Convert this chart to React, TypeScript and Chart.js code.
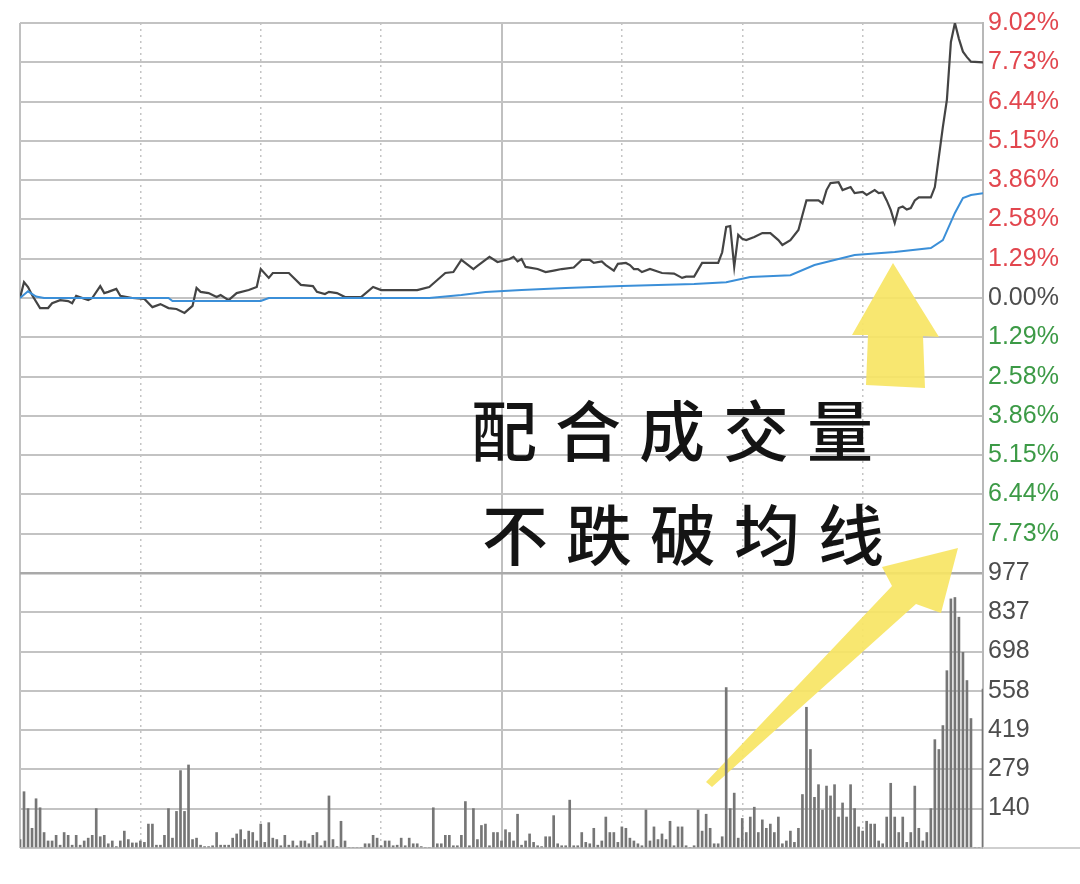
import React, { useEffect, useRef } from 'react';
import { Chart, registerables } from 'chart.js';

Chart.register(...registerables);

// ---- data ----
const priceMinutes = [
  0, 1, 2, 3, 5, 7, 8, 10, 12, 13, 14, 17, 18, 20, 21, 22, 24, 25, 28, 31,
  33, 35, 37, 39, 41, 43, 44, 45, 47, 49, 50, 52, 54, 57, 59, 60, 62, 63, 67, 70,
  73, 74, 76, 77, 79, 81, 85, 88, 90, 99, 102, 104, 106, 108, 110, 113, 114, 117, 119, 122,
  123, 124, 125, 126, 129, 131, 133, 135, 138, 140, 142, 143, 145, 146, 148, 149, 151, 152, 153, 154,
  155, 157, 160, 163, 165, 166, 168, 170, 174, 175, 176, 177, 178, 179, 180, 181, 183, 185, 187, 189,
  190, 192, 194, 195, 196, 199, 200, 201, 202, 204, 205, 207, 208, 210, 211, 213, 214, 215, 216, 217,
  218, 219, 220, 221, 222, 223, 224, 227, 228, 229, 230, 231, 232, 233, 234, 235, 236, 237, 240,
];
const pricePct = [
  0.0, 0.52, 0.36, 0.1, -0.33, -0.33, -0.17, -0.07, -0.1, -0.17, 0.07, -0.07, 0, 0.39, 0.16, 0.2, 0.3, 0.07, 0, -0.03,
  -0.3, -0.2, -0.33, -0.36, -0.49, -0.26, 0.33, 0.2, 0.16, 0.03, 0.1, -0.07, 0.16, 0.26, 0.36, 0.95, 0.66, 0.82, 0.82, 0.43,
  0.39, 0.2, 0.13, 0.2, 0.16, 0.03, 0.03, 0.36, 0.26, 0.26, 0.36, 0.59, 0.82, 0.85, 1.25, 0.95, 1.05, 1.35, 1.18, 1.28,
  1.35, 1.2, 1.28, 1.02, 0.95, 0.85, 0.9, 0.95, 1.0, 1.25, 1.25, 1.15, 1.2, 1.08, 0.9, 1.12, 1.15, 1.08, 0.95, 0.95,
  0.85, 0.95, 0.82, 0.8, 0.66, 0.7, 0.7, 1.15, 1.15, 1.5, 2.33, 2.36, 1.02, 2.07, 1.94, 1.9, 2.0, 2.13, 2.13, 1.9,
  1.74, 1.9, 2.23, 2.72, 3.2, 3.2, 3.1, 3.54, 3.77, 3.8, 3.54, 3.64, 3.44, 3.48, 3.38, 3.54, 3.44, 3.46, 3.2, 2.89,
  2.46, 2.95, 3.0, 2.9, 2.95, 3.2, 3.3, 3.3, 3.64, 4.63, 5.61, 6.5, 8.4, 9.02, 8.5, 8.08, 7.9, 7.75, 7.73,
];

const avgMinutes = [0, 2, 4, 6, 37, 38, 60, 62, 102, 110, 116, 125, 136, 150, 168, 176, 182, 192, 198, 208, 218, 227, 230, 233, 235, 237, 240];
const avgPct = [0, 0.22, 0.05, 0, 0, -0.1, -0.1, 0, 0, 0.1, 0.2, 0.26, 0.33, 0.39, 0.46, 0.52, 0.69, 0.75, 1.08, 1.41, 1.51, 1.64, 1.9, 2.79, 3.28, 3.38, 3.44];

const volumes = [
  30, 200, 140, 70, 175, 143, 55, 25, 25, 45,
  10, 55, 45, 10, 45, 10, 25, 35, 45, 140,
  40, 45, 15, 25, 5, 25, 60, 30, 18, 18,
  25, 20, 85, 85, 10, 10, 45, 140, 35, 130,
  275, 130, 295, 30, 35, 10, 5, 5, 8, 55,
  10, 10, 10, 35, 50, 65, 30, 60, 55, 25,
  85, 20, 90, 35, 30, 8, 45, 10, 25, 8,
  25, 25, 15, 45, 55, 8, 25, 185, 30, 5,
  95, 25, 0, 0, 0, 0, 15, 15, 45, 35,
  8, 25, 25, 8, 10, 35, 8, 35, 15, 15,
  5, 0, 0, 143, 15, 15, 45, 45, 8, 8,
  45, 165, 8, 140, 30, 80, 85, 8, 55, 55,
  25, 65, 55, 25, 120, 10, 25, 50, 20, 8,
  5, 40, 40, 115, 15, 8, 8, 170, 8, 8,
  55, 20, 15, 70, 10, 25, 110, 55, 55, 20,
  75, 70, 35, 25, 15, 8, 135, 25, 75, 30,
  50, 30, 95, 8, 75, 75, 8, 0, 8, 135,
  60, 120, 70, 15, 15, 40, 570, 140, 195, 35,
  105, 55, 110, 145, 55, 100, 70, 85, 55, 110,
  15, 25, 60, 20, 70, 190, 500, 350, 180, 225,
  135, 220, 185, 225, 110, 160, 110, 225, 140, 75,
  60, 95, 85, 85, 25, 15, 110, 230, 110, 55,
  110, 20, 55, 220, 70, 25, 55, 140, 385, 350,
  435, 630, 885, 890, 820, 695, 595, 460, 0, 0,
  565,
];

const pctTicks = [9.02, 7.73, 6.44, 5.15, 3.86, 2.58, 1.29, 0, -1.29, -2.58, -3.86, -5.15, -6.44, -7.73, -9.02];
const volTicks = [977, 837, 698, 558, 419, 279, 140, 0];
const solidMinuteLines = [0, 120, 240];
const dottedMinuteLines = [30, 60, 90, 150, 180, 210];
const captionLines = ['配合成交量', '不跌破均线'];

// ---- styles ----
const RED = '#e2464e';
const GREEN = '#3c9a46';
const GRAY_TEXT = '#4d4d4d';
const GRID = '#c3c3c3';

const annotationPlugin = {
  id: 'annotations',
  beforeDatasetsDraw(chart: any) {
    const ctx = chart.ctx;
    ctx.save();
    // bottom baseline extends under the axis labels
    ctx.strokeStyle = '#cfcfcf';
    ctx.lineWidth = 2;
    ctx.beginPath();
    ctx.moveTo(chart.chartArea.right, chart.chartArea.bottom);
    ctx.lineTo(chart.width, chart.chartArea.bottom);
    ctx.stroke();

    ctx.fillStyle = 'rgba(247, 229, 100, 0.92)';
    // up arrow
    ctx.beginPath();
    ctx.moveTo(893, 263);
    ctx.lineTo(939, 337);
    ctx.lineTo(923, 336);
    ctx.lineTo(925, 388);
    ctx.lineTo(866, 385);
    ctx.lineTo(868, 335);
    ctx.lineTo(852, 335);
    ctx.closePath();
    ctx.fill();
    // diagonal arrow
    ctx.beginPath();
    ctx.moveTo(706, 782);
    ctx.lineTo(892, 586);
    ctx.lineTo(882, 567);
    ctx.lineTo(958, 548);
    ctx.lineTo(941, 613);
    ctx.lineTo(916, 604);
    ctx.lineTo(712, 787);
    ctx.closePath();
    ctx.fill();
    ctx.restore();
  },
  afterDraw(chart: any) {
    const ctx = chart.ctx;
    ctx.save();
    ctx.fillStyle = '#141414';
    ctx.font = '500 66px "Noto Sans CJK SC"';
    ctx.textAlign = 'center';
    ctx.textBaseline = 'middle';
    const starts = [504, 515];
    const ys = [431, 535];
    const pitch = 84;
    captionLines.forEach((line, li) => {
      Array.from(line).forEach((ch, ci) => {
        ctx.fillText(ch, starts[li] + ci * pitch, ys[li]);
      });
    });
    ctx.restore();
  },
};

export default function App() {
  const ref = useRef<HTMLCanvasElement | null>(null);

  useEffect(() => {
    if (!ref.current) return;
    const chart = new Chart(ref.current, {
      type: 'line',
      data: {
        datasets: [
          {
            type: 'bar',
            label: 'volume',
            data: volumes.map((v, i) => ({ x: i, y: v })) as any,
            xAxisID: 'x',
            yAxisID: 'yv',
            backgroundColor: '#767676',
            borderWidth: 0,
            barThickness: 2,
          } as any,
          {
            type: 'line',
            label: 'avg',
            data: avgMinutes.map((m, i) => ({ x: m, y: avgPct[i] })),
            xAxisID: 'x',
            yAxisID: 'y',
            borderColor: '#3b8fd8',
            borderWidth: 2,
            pointRadius: 0,
            tension: 0,
          },
          {
            type: 'line',
            label: 'price',
            data: priceMinutes.map((m, i) => ({ x: m, y: pricePct[i] })),
            xAxisID: 'x',
            yAxisID: 'y',
            borderColor: '#444444',
            borderWidth: 2.2,
            pointRadius: 0,
            tension: 0,
          },
        ],
      },
      options: {
        responsive: false,
        maintainAspectRatio: false,
        animation: false,
        layout: { padding: { left: 20, top: 23, bottom: 36, right: 0 } },
        plugins: { legend: { display: false }, tooltip: { enabled: false } },
        scales: {
          x: {
            type: 'linear',
            min: 0,
            max: 240,
            offset: false,
            position: 'bottom',
            ticks: { display: false, autoSkip: false },
            grid: { color: '#c0c0c0', lineWidth: 2, drawTicks: false, offset: false },
            border: { display: false },
            afterBuildTicks: (s: any) => {
              s.ticks = solidMinuteLines.map((v) => ({ value: v }));
            },
            afterFit: (s: any) => {
              s.height = 0;
            },
          },
          x2: {
            type: 'linear',
            min: 0,
            max: 240,
            offset: false,
            position: 'bottom',
            ticks: { display: false, autoSkip: false },
            grid: { color: '#c4c4c4', lineWidth: 1.5, drawTicks: false, offset: false },
            border: { display: false, dash: [2, 4] },
            afterBuildTicks: (s: any) => {
              s.ticks = dottedMinuteLines.map((v) => ({ value: v }));
            },
            afterFit: (s: any) => {
              s.height = 0;
            },
          },
          y: {
            type: 'linear',
            position: 'right',
            stack: 'panels',
            stackWeight: 2,
            min: -9.02,
            max: 9.02,
            afterBuildTicks: (s: any) => {
              s.ticks = pctTicks.map((v) => ({ value: v }));
            },
            afterFit: (s: any) => {
              s.width = 97;
            },
            ticks: {
              autoSkip: false,
              padding: 5,
              font: { family: '"Liberation Sans", Arial, sans-serif', size: 25 },
              color: (c: any) => (c.tick.value > 0 ? RED : c.tick.value < 0 ? GREEN : GRAY_TEXT),
              callback: (v: any) => (v <= -9 ? '' : Math.abs(Number(v)).toFixed(2) + '%'),
            },
            grid: {
              color: (c: any) => (c.tick && c.tick.value <= -9 ? '#a9a9a9' : GRID),
              lineWidth: (c: any) => (c.tick && c.tick.value <= -9 ? 2.5 : 2),
              drawTicks: false,
            },
            border: { display: true, color: '#b8b8b8', width: 2 },
          },
          yv: {
            type: 'linear',
            position: 'right',
            stack: 'panels',
            stackWeight: 1,
            min: 0,
            max: 977,
            afterBuildTicks: (s: any) => {
              s.ticks = volTicks.map((v) => ({ value: v }));
            },
            afterFit: (s: any) => {
              s.width = 97;
            },
            ticks: {
              autoSkip: false,
              padding: 5,
              font: { family: '"Liberation Sans", Arial, sans-serif', size: 25 },
              color: GRAY_TEXT,
              callback: (v: any) => (Number(v) === 0 ? '' : String(v)),
            },
            grid: {
              color: (c: any) => (c.tick && c.tick.value === 977 ? '#a9a9a9' : GRID),
              lineWidth: 2,
              drawTicks: false,
            },
            border: { display: true, color: '#b8b8b8', width: 2 },
          },
        },
      } as any,
      plugins: [annotationPlugin],
    });
    return () => chart.destroy();
  }, []);

  return (
    <div style={{ position: 'absolute', left: 0, top: 0, width: 1080, height: 884, background: '#ffffff' }}>
      <canvas ref={ref} width={1080} height={884} style={{ width: 1080, height: 884, display: 'block' }} />
    </div>
  );
}
